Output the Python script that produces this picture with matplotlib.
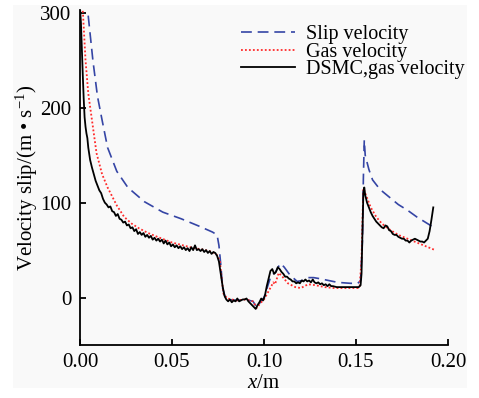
import numpy as np
import matplotlib
matplotlib.use("Agg")
import matplotlib.pyplot as plt
from matplotlib.patches import Rectangle
from matplotlib.ticker import FormatStrFormatter

# ==============================
# 1. 数据
# ==============================

# 滑移速度（蓝色虚线）
slip_x = [0.0020, 0.0043, 0.0070, 0.0095, 0.0120, 0.0150, 0.0200, 0.0260, 0.0350, 0.0450,
          0.0550, 0.0650, 0.0720, 0.0745, 0.0755, 0.0765, 0.0775, 0.0790, 0.0810, 0.0850,
          0.0900, 0.0940, 0.0960, 0.0980, 0.1000, 0.1020, 0.1040, 0.1060, 0.1080, 0.1090,
          0.1110, 0.1140, 0.1180, 0.1210, 0.1240, 0.1270, 0.1300, 0.1350, 0.1400, 0.1470,
          0.1510, 0.1525, 0.1535, 0.1540, 0.1545, 0.1550, 0.1570, 0.1590, 0.1630, 0.1680,
          0.1730, 0.1780, 0.1830, 0.1880, 0.1930]
slip_v = [380, 300, 250, 212, 187, 158, 133, 116, 101, 90,
          83, 75, 69, 66, 55, 35, 10, 0, -2, -3,
          -2, -4, -10, -5, 0, 12, 24, 26, 33, 36,
          32, 24, 17, 18, 21, 21, 20, 18, 16, 15,
          15, 18, 60, 125, 166, 150, 135, 124, 114, 106,
          98, 92, 85, 79, 73]

# 气体速度（红色点线）
gas_x = [0.0000, 0.0016, 0.0030, 0.0045, 0.0065, 0.0090, 0.0120, 0.0150, 0.0200, 0.0240,
         0.0280, 0.0320, 0.0370, 0.0420, 0.0500, 0.0600, 0.0680, 0.0720, 0.0740, 0.0760,
         0.0770, 0.0780, 0.0800, 0.0850, 0.0900, 0.0940, 0.0960, 0.0980, 0.1000, 0.1020,
         0.1040, 0.1050, 0.1060, 0.1080, 0.1100, 0.1130, 0.1170, 0.1200, 0.1240, 0.1280,
         0.1330, 0.1380, 0.1430, 0.1470, 0.1510, 0.1520, 0.1530, 0.1535, 0.1540, 0.1560,
         0.1580, 0.1610, 0.1640, 0.1680, 0.1730, 0.1780, 0.1830, 0.1880, 0.1930]
gas_v = [330, 300, 250, 215, 187, 152, 130, 116, 97, 85,
         78, 73, 68, 64, 58, 53, 50, 48, 46, 39,
         20, 4, -1, -3, -2, -4, -11, -6, -2, 5,
         12, 16, 14, 26, 22, 15, 11, 10, 14, 13,
         11, 10, 10, 10, 10, 12, 40, 80, 115, 105,
         95, 85, 78, 72, 66, 62, 58, 54, 50]

# DSMC 气体速度（黑色实线）
dsmc_x = [0.0000, 0.0005, 0.0010, 0.0015, 0.0020, 0.0025, 0.0030, 0.0035, 0.0040, 0.0045,
          0.0055, 0.0065, 0.0075, 0.0085, 0.0095, 0.0105, 0.0115, 0.0125, 0.0135, 0.0145,
          0.0155, 0.0165, 0.0175, 0.0185, 0.0195, 0.0205, 0.0215, 0.0225, 0.0235, 0.0245,
          0.0255, 0.0265, 0.0275, 0.0285, 0.0295, 0.0305, 0.0315, 0.0325, 0.0335, 0.0345,
          0.0355, 0.0365, 0.0375, 0.0385, 0.0395, 0.0405, 0.0415, 0.0425, 0.0435, 0.0445,
          0.0455, 0.0465, 0.0475, 0.0485, 0.0495, 0.0505, 0.0515, 0.0525, 0.0535, 0.0545,
          0.0555, 0.0565, 0.0575, 0.0585, 0.0595, 0.0605, 0.0615, 0.0625, 0.0635, 0.0645,
          0.0655, 0.0665, 0.0675, 0.0685, 0.0695, 0.0705, 0.0715, 0.0725, 0.0735, 0.0745,
          0.0755, 0.0765, 0.0775, 0.0785, 0.0795, 0.0805, 0.0815, 0.0825, 0.0835, 0.0845,
          0.0855, 0.0865, 0.0875, 0.0885, 0.0895, 0.0905, 0.0915, 0.0925, 0.0935, 0.0945,
          0.0955, 0.0965, 0.0975, 0.0985, 0.0995, 0.1005, 0.1015, 0.1025, 0.1035, 0.1045,
          0.1055, 0.1065, 0.1075, 0.1085, 0.1095, 0.1105, 0.1115, 0.1125, 0.1135, 0.1145,
          0.1155, 0.1165, 0.1175, 0.1185, 0.1195, 0.1205, 0.1215, 0.1225, 0.1235, 0.1245,
          0.1255, 0.1265, 0.1275, 0.1285, 0.1295, 0.1305, 0.1315, 0.1325, 0.1335, 0.1345,
          0.1355, 0.1365, 0.1375, 0.1395, 0.1415, 0.1435, 0.1455, 0.1475, 0.1495, 0.1515,
          0.1525, 0.1530, 0.1535, 0.1540, 0.1545, 0.1550, 0.1560, 0.1570, 0.1580, 0.1590,
          0.1600, 0.1610, 0.1620, 0.1630, 0.1640, 0.1650, 0.1660, 0.1670, 0.1680, 0.1690,
          0.1700, 0.1710, 0.1720, 0.1730, 0.1740, 0.1750, 0.1760, 0.1770, 0.1780, 0.1790,
          0.1800, 0.1810, 0.1820, 0.1830, 0.1840, 0.1850, 0.1860, 0.1870, 0.1880, 0.1890,
          0.1900, 0.1910, 0.1920]
dsmc_v = [305, 290, 262, 235, 210, 190, 180, 173, 168, 158,
          145, 137, 130, 123, 118, 113, 110, 104, 100, 98,
          95, 96, 91, 90, 86, 88, 83, 82, 79, 80,
          76, 77, 73, 74, 70, 72, 67, 69, 66, 68,
          64, 66, 63, 65, 61, 63, 60, 62, 59, 61,
          57, 60, 56, 58, 54, 56, 53, 55, 52, 54,
          51, 53, 50, 52, 49, 53, 50, 55, 50, 51,
          49, 51, 48, 50, 47, 49, 46, 48, 47, 44,
          38, 25, 12, 2, -2, -4, -2, -5, -3, -4,
          -1, -4, -3, -2, -2, -1, -4, -6, -8, -10,
          -12, -8, -5, -1, -3, 2, 12, 20, 28, 30,
          25, 27, 32, 30, 27, 25, 22, 22, 20, 19,
          17, 17, 15, 16, 15, 18, 17, 19, 17, 18,
          16, 19, 16, 15, 16, 14, 15, 13, 14, 12,
          14, 12, 12, 11, 11, 11, 11, 11, 11, 11,
          13, 25, 70, 110, 116, 108, 100, 95, 90, 86,
          83, 80, 78, 76, 74, 73, 76, 75, 71, 70,
          67, 66, 66, 64, 63, 62, 62, 60, 60, 58,
          60, 61, 62, 61, 60, 59, 59, 58, 60, 62,
          70, 82, 95]

x_ticks = [0.00, 0.05, 0.10, 0.15, 0.20]
y_ticks = [0, 100, 200, 300]

# ==============================
# 2. 字体与配色
# ==============================

plt.rcParams["font.family"] = ["Liberation Serif", "DejaVu Serif"]
plt.rcParams["mathtext.fontset"] = "custom"
plt.rcParams["mathtext.rm"] = "Liberation Serif"
plt.rcParams["mathtext.it"] = "Liberation Serif:italic"
plt.rcParams["font.size"] = 15

COL_SLIP = "#3545a5"
COL_GAS = "#ff2a2a"
COL_DSMC = "black"

# ==============================
# 3. 绘图
# ==============================

fig = plt.figure(figsize=(4.79, 3.98), dpi=100)
fig.patch.set_facecolor("white")
fig.patches.append(Rectangle((13 / 479, 10 / 398), 454 / 479, 383 / 398,
                             transform=fig.transFigure, facecolor="#f9f9f9",
                             edgecolor="none", zorder=-10))

ax = fig.add_axes([80 / 479, 53 / 398, 368 / 479, 335 / 398])
ax.set_facecolor("none")

ax.plot(slip_x, slip_v, color=COL_SLIP, linewidth=1.2,
        linestyle=(0, (6.5, 3.5)), label="Slip velocity")
ax.plot(gas_x, gas_v, color=COL_GAS, linewidth=1.3,
        linestyle=(0, (1, 1.2)), label="Gas velocity")
ax.plot(dsmc_x, dsmc_v, color=COL_DSMC, linewidth=1.3,
        label="DSMC,gas velocity")

ax.set_xlim(0, 0.20)
ax.set_ylim(-50, 303)
ax.set_xticks(x_ticks)
ax.set_yticks(y_ticks)
ax.xaxis.set_major_formatter(FormatStrFormatter("%.2f"))

for side in ["top", "right"]:
    ax.spines[side].set_visible(False)
for side in ["left", "bottom"]:
    ax.spines[side].set_linewidth(1.3)
ax.tick_params(direction="in", length=4, width=1.3, labelsize=15, pad=6)

ax.set_xlabel("$x$/m", fontsize=15, labelpad=1)
ax.set_ylabel("Velocity slip/(m • s$^{-1}$)", fontsize=15)
ax.yaxis.set_label_coords(-0.11, 0.5)

ax.legend(loc="upper left", bbox_to_anchor=(241 / 479, 1 - 25 / 398),
          bbox_transform=fig.transFigure, frameon=False, fontsize=14.5,
          handlelength=2.7, handletextpad=0.55, labelspacing=-0.08,
          borderpad=0, borderaxespad=0)

fig.savefig("out.png", dpi=100)
plt.close(fig)
